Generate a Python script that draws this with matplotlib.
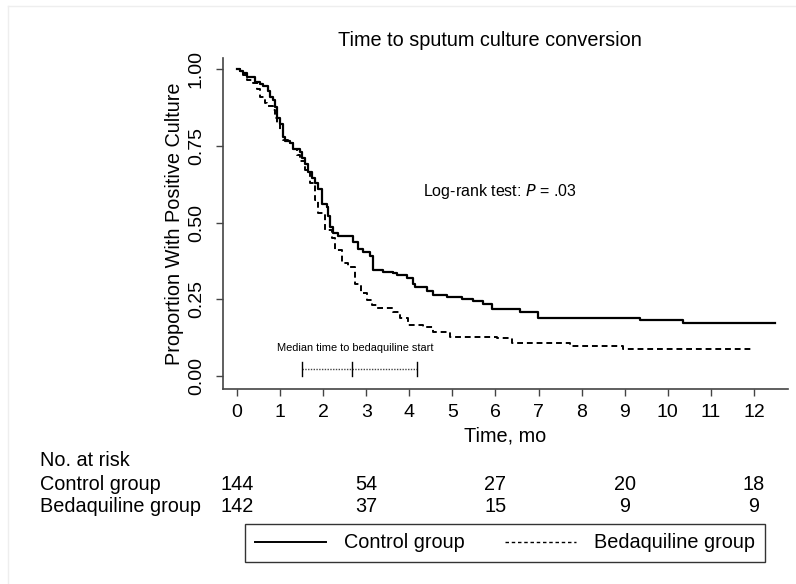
import numpy as np
import matplotlib
matplotlib.use("Agg")
import matplotlib.pyplot as plt
from matplotlib.lines import Line2D
from matplotlib.transforms import blended_transform_factory

plt.rcParams['font.family'] = ['Liberation Sans', 'DejaVu Sans']

# Kaplan-Meier steps (time in months, proportion still culture positive)
ctrl_t = [0, 0.07, 0.14, 0.23, 0.42, 0.53, 0.60, 0.72, 0.77, 0.84, 0.88, 0.93, 1.00, 1.07, 1.11,
          1.23, 1.30, 1.46, 1.51, 1.58, 1.65, 1.74, 1.81, 1.88, 1.97, 2.09, 2.11, 2.16, 2.23, 2.34,
          2.69, 2.81, 2.92, 3.09, 3.16, 3.39, 3.62, 3.71, 3.95, 4.09, 4.13, 4.41, 4.55, 4.87, 5.22,
          5.48, 5.71, 5.92, 6.57, 6.99, 9.35, 10.35, 12.49]
ctrl_s = [1.0, 0.993, 0.987, 0.974, 0.958, 0.951, 0.945, 0.93, 0.91, 0.90, 0.876, 0.84, 0.82, 0.78, 0.765,
          0.76, 0.74, 0.73, 0.71, 0.69, 0.665, 0.645, 0.63, 0.61, 0.56, 0.55, 0.52, 0.485, 0.466, 0.456,
          0.436, 0.415, 0.404, 0.39, 0.345, 0.34, 0.335, 0.33, 0.32, 0.30, 0.29, 0.277, 0.265, 0.257, 0.25,
          0.245, 0.235, 0.218, 0.21, 0.19, 0.182, 0.173, 0.173]

bdq_t = [0, 0.07, 0.14, 0.23, 0.37, 0.46, 0.53, 0.65, 0.70, 0.84, 0.88, 0.93, 1.00, 1.07, 1.18,
         1.30, 1.39, 1.46, 1.58, 1.69, 1.81, 1.88, 2.04, 2.21, 2.28, 2.44, 2.58, 2.74, 2.88, 3.02,
         3.13, 3.25, 3.62, 3.78, 3.97, 4.32, 4.55, 4.94, 6.04, 6.38, 7.73, 8.96, 12.0]
bdq_s = [1.0, 0.993, 0.98, 0.964, 0.954, 0.935, 0.91, 0.89, 0.88, 0.866, 0.84, 0.82, 0.80, 0.77, 0.76,
         0.74, 0.72, 0.70, 0.67, 0.63, 0.573, 0.53, 0.475, 0.45, 0.41, 0.368, 0.355, 0.30, 0.27, 0.248,
         0.23, 0.222, 0.21, 0.19, 0.166, 0.16, 0.143, 0.127, 0.124, 0.107, 0.098, 0.088, 0.088]

# median time to bedaquiline start: lower quartile, median, upper quartile
bdq_start = [1.52, 2.67, 4.18]

risk_times = [0, 3, 6, 9, 12]
risk_ctrl = [144, 54, 27, 20, 18]
risk_bdq = [142, 37, 15, 9, 9]

fs = 14.3  # 主字号

fig = plt.figure(figsize=(7.96, 5.84), dpi=100)
ax = fig.add_axes([223/796, 1-389/584, 565/796, 331/584])

ax.step(ctrl_t, ctrl_s, where='post', color='black', lw=1.6, label='Control group')
ax.step(bdq_t, bdq_s, where='post', color='black', lw=1.4, dashes=(3, 2), label='Bedaquiline group')

# median bar
ax.plot([bdq_start[0], bdq_start[2]], [0.023, 0.023], color='#444444', lw=1.0, ls=(0, (1, 1)))
for v in bdq_start:
    ax.plot([v, v], [0.0, 0.046], color='black', lw=1.0)
ax.text(2.74, 0.09, 'Median time to bedaquiline start', fontsize=7.9, ha='center', va='center')

ax.text(4.32, 0.60, 'Log-rank test: $\\it{P}$ = .03', fontsize=11.5, va='center')

ax.set_xlim(-0.325, 12.79)
ax.set_ylim(-0.042, 1.036)
ax.set_xticks(range(0, 13))
ax.set_yticks([0, 0.25, 0.5, 0.75, 1.0])
ax.set_yticklabels(['0.00', '0.25', '0.50', '0.75', '1.00'])
ax.tick_params(labelsize=14, length=5, width=1, color='#444444', pad=6)
ax.tick_params(axis='y', pad=8)
plt.setp(ax.get_yticklabels(), rotation=90, va='center')
for s in ['top', 'right']:
    ax.spines[s].set_visible(False)
for s in ['left', 'bottom']:
    ax.spines[s].set_color('#444444')
    ax.spines[s].set_linewidth(1.2)

ax.set_title('Time to sputum culture conversion', fontsize=fs, pad=9, x=(490-223)/565)
ax.set_xlabel('Time, mo', fontsize=fs, labelpad=4)
ax.set_ylabel('Proportion With Positive Culture', fontsize=fs, labelpad=3)

# number-at-risk table
tr = blended_transform_factory(ax.transData, fig.transFigure)
fig.text(40/796, 1-461/584, 'No. at risk', fontsize=fs, va='center')
fig.text(40/796, 1-484/584, 'Control group', fontsize=fs, va='center')
fig.text(40/796, 1-507/584, 'Bedaquiline group', fontsize=fs, va='center')
for t, c, b in zip(risk_times, risk_ctrl, risk_bdq):
    ax.text(t, 1-484/584, str(c), transform=tr, fontsize=fs, ha='center', va='center')
    ax.text(t, 1-507/584, str(b), transform=tr, fontsize=fs, ha='center', va='center')

handles = [Line2D([], [], color='black', lw=1.4),
           Line2D([], [], color='black', lw=1.0, dashes=(2.5, 2))]
leg = fig.legend(handles, ['Control group', 'Bedaquiline group'], ncol=2,
                 loc='center', bbox_to_anchor=(505/796, 1-543/584),
                 fontsize=fs, frameon=True, fancybox=False, edgecolor='black',
                 handlelength=3.6, handletextpad=0.9, columnspacing=2.0, borderpad=0.5)
leg.get_frame().set_linewidth(1.0)

# faint panel border visible at top/left
fig.add_artist(Line2D([8/796, 8/796], [0, 1-6/584], color='#eeeeee', lw=1, transform=fig.transFigure))
fig.add_artist(Line2D([8/796, 1], [1-6/584, 1-6/584], color='#eeeeee', lw=1, transform=fig.transFigure))

fig.savefig('out.png', dpi=100)
